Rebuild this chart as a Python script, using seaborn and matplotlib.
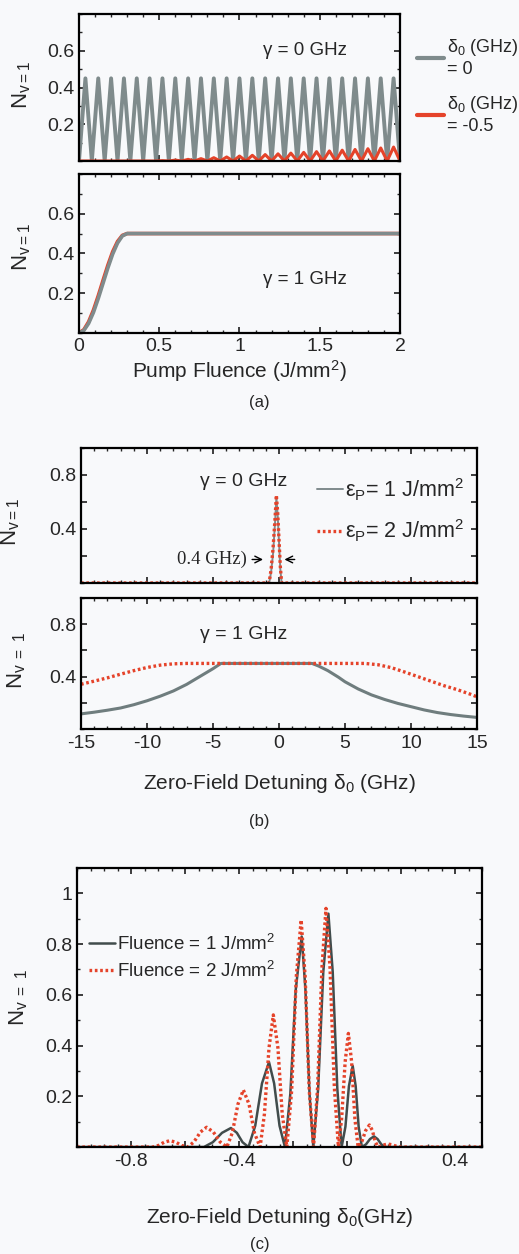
import matplotlib

matplotlib.use("Agg")

import matplotlib.pyplot as plt
import pandas as pd
import seaborn as sns
from matplotlib.ticker import FixedLocator, MultipleLocator

# ───────────────────────────────────────────── data
# (a) top, gamma = 0 GHz: oscillation vs pump fluence
a0_trough_x = [0.00, 0.08, 0.16, 0.24, 0.32, 0.40, 0.48, 0.56, 0.64, 0.72, 0.80, 0.88, 0.96,
               1.04, 1.12, 1.20, 1.28, 1.36, 1.44, 1.52, 1.60, 1.68, 1.76, 1.84, 1.92, 2.00]
a0_peak_x = [0.04, 0.12, 0.20, 0.28, 0.36, 0.44, 0.52, 0.60, 0.68, 0.76, 0.84, 0.92, 1.00,
             1.08, 1.16, 1.24, 1.32, 1.40, 1.48, 1.56, 1.64, 1.72, 1.80, 1.88, 1.96]
a0_gray_peak_y = [0.45, 0.45, 0.45, 0.45, 0.45, 0.45, 0.45, 0.45, 0.45, 0.45, 0.45, 0.45, 0.45,
                  0.45, 0.45, 0.45, 0.45, 0.45, 0.45, 0.45, 0.45, 0.45, 0.45, 0.45, 0.45]
a0_red_trough_x = [0.00, 0.48, 0.56, 0.64, 0.72, 0.80, 0.88, 0.96, 1.04, 1.12, 1.20, 1.28,
                   1.36, 1.44, 1.52, 1.60, 1.68, 1.76, 1.84, 1.92, 2.00]
a0_red_peak_x = [0.52, 0.60, 0.68, 0.76, 0.84, 0.92, 1.00, 1.08, 1.16, 1.24, 1.32, 1.40,
                 1.48, 1.56, 1.64, 1.72, 1.80, 1.88, 1.96]
a0_red_peak_y = [0.002, 0.005, 0.009, 0.013, 0.018, 0.022, 0.027, 0.031, 0.035, 0.039,
                 0.043, 0.047, 0.051, 0.055, 0.059, 0.063, 0.067, 0.071, 0.076]

# (a) bottom, gamma = 1 GHz
a1_x = [0.00, 0.03, 0.06, 0.09, 0.12, 0.15, 0.18, 0.21, 0.24, 0.27, 0.30, 0.40, 1.00, 2.00]
a1_gray_y = [0.0, 0.012, 0.048, 0.103, 0.173, 0.25, 0.327, 0.397, 0.452, 0.488, 0.5, 0.5, 0.5, 0.5]
a1_red_y = [0.0, 0.016, 0.056, 0.115, 0.187, 0.265, 0.341, 0.409, 0.46, 0.491, 0.5, 0.5, 0.5, 0.5]

# (b) top, gamma = 0 GHz: narrow peak vs detuning
b0_x = [-15, -0.75, -0.6, -0.45, -0.3, -0.2, -0.1, 0.0, 0.1, 0.2, 15]
b0_gray_y = [0, 0, 0.08, 0.22, 0.45, 0.63, 0.5, 0.3, 0.1, 0, 0]
b0_red_y = [0, 0, 0.1, 0.26, 0.48, 0.65, 0.52, 0.32, 0.12, 0, 0]

# (b) bottom, gamma = 1 GHz
b1_gray_x = [-15, -14, -13, -12, -11, -10, -9, -8, -7, -6, -5, -4.4, 0, 2.5, 3, 3.7, 4.5, 5,
             6, 7, 8, 9, 10, 11, 12, 13, 14, 15]
b1_gray_y = [0.115, 0.128, 0.143, 0.16, 0.185, 0.215, 0.25, 0.29, 0.34, 0.40, 0.46, 0.50, 0.5,
             0.5, 0.48, 0.445, 0.395, 0.36, 0.305, 0.26, 0.225, 0.195, 0.17, 0.145, 0.125,
             0.11, 0.098, 0.088]
b1_red_x = [-15, -14, -13, -12, -11, -10, -9, -8, -7, 0, 6.5, 7.5, 8.5, 9.5, 10.5, 11.5, 12.5,
            13.5, 14.5, 15]
b1_red_y = [0.341, 0.365, 0.39, 0.418, 0.445, 0.469, 0.487, 0.497, 0.5, 0.5, 0.5, 0.49, 0.468,
            0.435, 0.40, 0.365, 0.33, 0.30, 0.265, 0.245]

# (c) fluence 1 and 2 J/mm^2 vs detuning
c_gray_x = [-1.0, -0.53, -0.497, -0.463, -0.43, -0.408, -0.387, -0.365, -0.34, -0.315, -0.289,
            -0.27, -0.25, -0.23, -0.21, -0.19, -0.168, -0.154, -0.139, -0.125, -0.107, -0.088,
            -0.069, -0.053, -0.036, -0.02, -0.006, 0.007, 0.021, 0.032, 0.043, 0.055, 0.07,
            0.085, 0.10, 0.113, 0.127, 0.14, 0.5]
c_gray_y = [0, 0, 0.019, 0.056, 0.075, 0.056, 0.019, 0, 0.084, 0.251, 0.335, 0.251, 0.084, 0,
            0.21, 0.62, 0.83, 0.62, 0.21, 0, 0.23, 0.69, 0.92, 0.69, 0.23, 0, 0.08, 0.24, 0.32,
            0.24, 0.08, 0, 0.0105, 0.0315, 0.042, 0.0315, 0.0105, 0, 0]
c_red_x = [-1.0, -0.72, -0.699, -0.677, -0.656, -0.634, -0.612, -0.59, -0.567, -0.543, -0.52,
           -0.495, -0.47, -0.445, -0.425, -0.404, -0.384, -0.363, -0.343, -0.322, -0.306,
           -0.289, -0.273, -0.256, -0.24, -0.223, -0.205, -0.188, -0.170, -0.155, -0.14,
           -0.124, -0.109, -0.093, -0.078, -0.063, -0.047, -0.032, -0.02, -0.007, 0.005,
           0.017, 0.029, 0.041, 0.055, 0.069, 0.083, 0.094, 0.104, 0.115, 0.127, 0.139, 0.15,
           0.167, 0.183, 0.2, 0.5]
c_red_y = [0, 0, 0.006, 0.019, 0.025, 0.019, 0.006, 0, 0.02, 0.059, 0.078, 0.059, 0.02, 0,
           0.056, 0.169, 0.225, 0.169, 0.056, 0, 0.13, 0.391, 0.521, 0.391, 0.13, 0, 0.224,
           0.671, 0.895, 0.671, 0.224, 0, 0.235, 0.706, 0.941, 0.706, 0.235, 0, 0.112, 0.336,
           0.448, 0.336, 0.112, 0, 0.022, 0.065, 0.087, 0.065, 0.022, 0, 0.003, 0.009, 0.012,
           0.009, 0.003, 0, 0]

GRAY = "#7f8b8c"
DARK = "#414c4c"
RED = "#e5432a"
BG = "#f8f9fb"

sns.set_theme(style="ticks")
plt.rcParams.update(
    {
        "font.family": ["Liberation Sans", "DejaVu Sans"],
        "mathtext.fontset": "custom",
        "mathtext.rm": "Liberation Sans",
        "mathtext.it": "Liberation Sans:italic",
        "mathtext.bf": "Liberation Sans:bold",
        "axes.linewidth": 1.6,
        "axes.edgecolor": "black",
        "xtick.labelsize": 14,
        "ytick.labelsize": 14,
        "xtick.direction": "in",
        "ytick.direction": "in",
        "xtick.top": True,
        "ytick.right": True,
        "xtick.major.size": 4,
        "ytick.major.size": 4,
        "xtick.minor.size": 2,
        "ytick.minor.size": 2,
        "xtick.major.pad": 4,
        "ytick.major.pad": 3,
        "xtick.minor.visible": True,
        "ytick.minor.visible": True,
        "lines.solid_joinstyle": "round",
        "figure.facecolor": BG,
        "axes.facecolor": BG,
    }
)


def zigzag(peak_x, peak_y, trough_x):
    df = pd.DataFrame(
        {"x": list(trough_x) + list(peak_x), "y": [0.0] * len(trough_x) + list(peak_y)}
    )
    return df.sort_values("x")


def style(ax, ylabel, lab_x, lab_y):
    ax.set_ylabel(ylabel, fontsize=16)
    ax.yaxis.set_label_coords(lab_x, lab_y)
    ax.set_xlabel("")
    for s in ax.spines.values():
        s.set_visible(True)


fig = plt.figure(figsize=(5.19, 12.54), dpi=100)

# ───────────────────────────────────────────── (a) top
ax = fig.add_axes([0.1522, 0.8716, 0.6185, 0.1172])
g = zigzag(a0_peak_x, a0_gray_peak_y, a0_trough_x)
r = zigzag(a0_red_peak_x, a0_red_peak_y, a0_red_trough_x)
sns.lineplot(x=g["x"], y=g["y"], ax=ax, color=GRAY, lw=2.8, sort=False, estimator=None,
             label="$\\mathrm{\\delta_0}$ (GHz)\n= 0")
sns.lineplot(x=r["x"], y=r["y"], ax=ax, color=RED, lw=2.2, sort=False, estimator=None,
             label="$\\mathrm{\\delta_0}$ (GHz)\n= -0.5")
ax.set_xlim(0, 2)
ax.set_ylim(0, 0.8)
ax.yaxis.set_major_locator(FixedLocator([0.2, 0.4, 0.6]))
ax.set_yticklabels(["0.2", "0.4", "0.6"])
ax.yaxis.set_minor_locator(MultipleLocator(0.1))
ax.xaxis.set_major_locator(MultipleLocator(0.5))
ax.xaxis.set_minor_locator(MultipleLocator(0.1))
ax.set_xticklabels([])
ax.text(0.704, 0.755, "γ = 0 GHz", transform=ax.transAxes, ha="center", va="center", fontsize=13.5)
style(ax, "$\\mathrm{N_{v=1}}$", -0.143, 0.52)
leg = ax.legend(loc="center left", bbox_to_anchor=(1.03, 0.51), frameon=False, fontsize=13,
                handlelength=1.5, handletextpad=0.15, labelspacing=0.9, borderaxespad=0)
for h in leg.get_lines():
    h.set_linewidth(3)

# ───────────────────────────────────────────── (a) bottom
ax = fig.add_axes([0.1522, 0.7345, 0.6185, 0.1268])
sns.lineplot(x=a1_x, y=a1_red_y, ax=ax, color=RED, lw=2.6, estimator=None)
sns.lineplot(x=a1_x, y=a1_gray_y, ax=ax, color=GRAY, lw=2.6, estimator=None)
ax.set_xlim(0, 2)
ax.set_ylim(0, 0.8)
ax.yaxis.set_major_locator(FixedLocator([0.2, 0.4, 0.6]))
ax.set_yticklabels(["0.2", "0.4", "0.6"])
ax.yaxis.set_minor_locator(MultipleLocator(0.1))
ax.xaxis.set_major_locator(FixedLocator([0, 0.5, 1, 1.5, 2]))
ax.set_xticklabels(["0", "0.5", "1", "1.5", "2"])
ax.xaxis.set_minor_locator(MultipleLocator(0.1))
ax.text(0.704, 0.333, "γ = 1 GHz", transform=ax.transAxes, ha="center", va="center", fontsize=13.5)
style(ax, "$\\mathrm{N_{v=1}}$", -0.143, 0.54)
ax.set_xlabel("Pump Fluence (J/mm$^2$)", fontsize=15, labelpad=2)
fig.text(0.5, 0.679, "(a)", ha="center", va="center", fontsize=12)

# ───────────────────────────────────────────── (b) top
ax = fig.add_axes([0.1561, 0.5351, 0.7630, 0.1077])
sns.lineplot(x=b0_x, y=b0_gray_y, ax=ax, color=GRAY, lw=1.4, estimator=None,
             label="$\\mathrm{\\varepsilon_P}$= 1 J/mm$^2$")
sns.lineplot(x=b0_x, y=b0_red_y, ax=ax, color=RED, lw=2.4, estimator=None,
             linestyle=(0, (0.8, 0.8)), label="$\\mathrm{\\varepsilon_P}$= 2 J/mm$^2$")
ax.set_xlim(-15, 15)
ax.set_ylim(0, 1)
ax.yaxis.set_major_locator(FixedLocator([0.2, 0.4, 0.6, 0.8]))
ax.set_yticklabels(["", "0.4", "", "0.8"])
ax.yaxis.set_minor_locator(MultipleLocator(0.2))
ax.xaxis.set_major_locator(MultipleLocator(5))
ax.xaxis.set_minor_locator(MultipleLocator(1))
ax.set_xticklabels([])
ax.text(0.41, 0.75, "γ = 0 GHz", transform=ax.transAxes, ha="center", va="center", fontsize=14)
ax.text(-2.45, 0.174, "0.4 GHz)", ha="right", va="center", fontsize=13.5,
        family=["Liberation Serif", "DejaVu Serif"])
ax.annotate("", xy=(-1.0, 0.174), xytext=(-2.25, 0.174),
            arrowprops=dict(arrowstyle="->", lw=1.0, color="black"))
ax.annotate("", xy=(0.2, 0.174), xytext=(1.4, 0.174),
            arrowprops=dict(arrowstyle="->", lw=1.0, color="black"))
style(ax, "$\\mathrm{N_{v=1}}$", -0.149, 0.45)
leg = ax.legend(loc="center left", bbox_to_anchor=(0.575, 0.54), frameon=False, fontsize=15.5,
                handlelength=1.2, handletextpad=0.1, labelspacing=0.7, borderaxespad=0)

# ───────────────────────────────────────────── (b) bottom
ax = fig.add_axes([0.1561, 0.4187, 0.7630, 0.1045])
sns.lineplot(x=b1_gray_x, y=b1_gray_y, ax=ax, color="#6f7d7e", lw=2.2, estimator=None)
sns.lineplot(x=b1_red_x, y=b1_red_y, ax=ax, color=RED, lw=2.4, estimator=None,
             linestyle=(0, (0.8, 0.8)))
ax.set_xlim(-15, 15)
ax.set_ylim(0, 1)
ax.yaxis.set_major_locator(FixedLocator([0.2, 0.4, 0.6, 0.8]))
ax.set_yticklabels(["", "0.4", "", "0.8"])
ax.yaxis.set_minor_locator(MultipleLocator(0.2))
ax.xaxis.set_major_locator(FixedLocator([-15, -10, -5, 0, 5, 10, 15]))
ax.set_xticklabels(["-15", "-10", "-5", "0", "5", "10", "15"])
ax.xaxis.set_minor_locator(MultipleLocator(1))
ax.text(0.41, 0.718, "γ = 1 GHz", transform=ax.transAxes, ha="center", va="center", fontsize=14)
style(ax, "$\\mathrm{N_{v\\ =\\ 1}}$", -0.134, 0.52)
ax.set_xlabel("Zero-Field Detuning $\\mathrm{\\delta_0}$ (GHz)", fontsize=15, labelpad=15)
fig.text(0.5, 0.3445, "(b)", ha="center", va="center", fontsize=12)

# ───────────────────────────────────────────── (c)
ax = fig.add_axes([0.1484, 0.0853, 0.7804, 0.2225])
sns.lineplot(x=c_gray_x, y=c_gray_y, ax=ax, color=DARK, lw=1.8, estimator=None,
             label="Fluence = 1 J/mm$^2$")
sns.lineplot(x=c_red_x, y=c_red_y, ax=ax, color=RED, lw=2.4, estimator=None,
             linestyle=(0, (0.8, 0.8)), label="Fluence = 2 J/mm$^2$")
ax.set_xlim(-1, 0.5)
ax.set_ylim(0, 1.1)
ax.yaxis.set_major_locator(FixedLocator([0.2, 0.4, 0.6, 0.8, 1.0]))
ax.set_yticklabels(["0.2", "0.4", "0.6", "0.8", "1"])
ax.yaxis.set_minor_locator(MultipleLocator(0.1))
ax.xaxis.set_major_locator(FixedLocator([-0.8, -0.6, -0.4, -0.2, 0, 0.2, 0.4]))
ax.set_xticklabels(["-0.8", "", "-0.4", "", "0", "", "0.4"])
ax.xaxis.set_minor_locator(MultipleLocator(0.05))
style(ax, "$\\mathrm{N_{v\\ =\\ 1}}$", -0.116, 0.534)
ax.set_xlabel("Zero-Field Detuning $\\mathrm{\\delta_0}$(GHz)", fontsize=15, labelpad=26)
leg = ax.legend(loc="center left", bbox_to_anchor=(0.01, 0.68), frameon=False, fontsize=13.5,
                handlelength=1.4, handletextpad=0.1, labelspacing=0.35, borderaxespad=0)
fig.text(0.5, 0.0072, "(c)", ha="center", va="center", fontsize=12)

fig.savefig("out.png", dpi=100, facecolor=BG)
